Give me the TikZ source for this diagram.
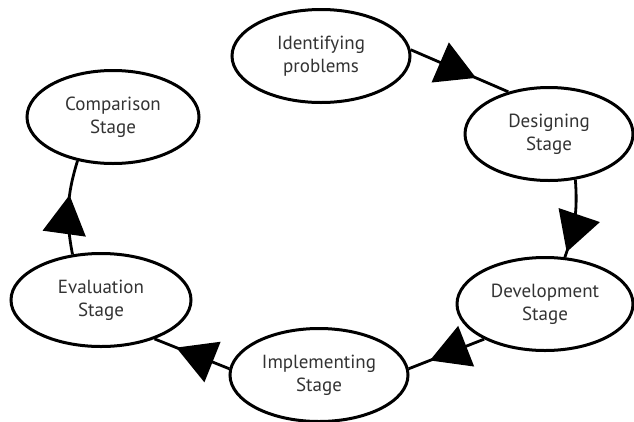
\documentclass[tikz,border=0pt]{standalone}
\usepackage{fontspec}
\setmainfont{PT Sans}
\usetikzlibrary{shapes.geometric,arrows.meta,decorations.markings}
\definecolor{txt}{HTML}{333333}
\tikzset{
  stage/.style={ellipse, draw=black, line width=3pt, fill=white, inner sep=0pt,
    minimum width=#1, minimum height=93pt, align=center, text=txt,
    font=\fontsize{19}{23}\selectfont},
  conn/.style={draw=black, line width=2.8pt},
  tri/.style={postaction={decorate, decoration={markings,
    mark=at position #1 with {\arrow{Triangle[length=39pt,width=43pt]}}}}}
}
\begin{document}
\begin{tikzpicture}[x=1pt,y=-1pt]
\useasboundingbox (0,0) rectangle (634,421);
\node[stage=178pt] (idp) at (321,56) {Identifying\\problems};
\node[stage=168pt] (des) at (549,134) {Designing\\Stage};
\node[stage=176pt] (dev) at (545,304) {Development\\Stage};
\node[stage=178pt] (imp) at (319,375) {Implementing\\Stage};
\node[stage=180pt] (eva) at (101,300) {Evaluation\\Stage};
\node[stage=172pt] (com) at (113,117) {Comparison\\Stage};
\draw[conn, tri=0.67] (idp.4) -- (des.134);
\draw[conn, tri=0.93] (des.-60) to[bend left=12] (dev.67);
\draw[conn, tri=0.72] (dev.-150) -- (imp.4);
\draw[conn, tri=0.71] (imp.176) -- (eva.-36);
\draw[conn, tri=0.63] (eva.122) to[bend left=14] (com.-129);
\end{tikzpicture}
\end{document}
